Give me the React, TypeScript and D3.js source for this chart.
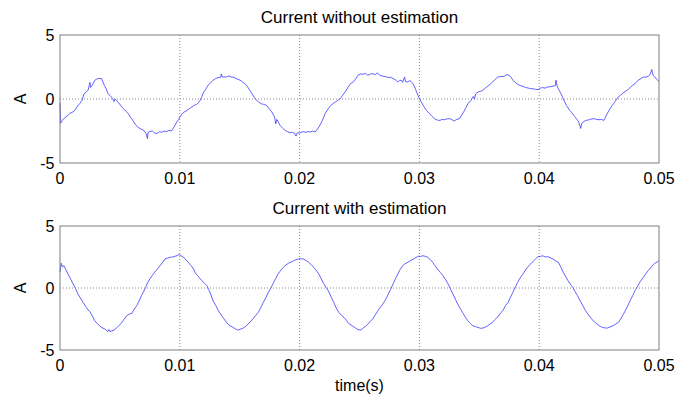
import React from "react";
import * as d3 from "d3";

// time in ms, current in A
const topSeries: [number, number][] = [
  [0, -0.3], [0.05, -1.9], [0.17, -1.7], [0.3, -1.55], [0.5, -1.4], [0.65, -1.3], [0.84, -1.1], [1.0, -1.05],
  [1.17, -0.95], [1.3, -0.8], [1.5, -0.5], [1.65, -0.35], [1.84, -0.1], [2.0, 0.4], [2.2, 0.55], [2.35, 0.7],
  [2.5, 1.3], [2.55, 0.9], [2.7, 1.07], [2.9, 1.46], [3.05, 1.55], [3.2, 1.6], [3.46, 1.6], [3.7, 1.07],
  [3.85, 0.8], [4.0, 0.42], [4.2, 0.25], [4.4, 0.03], [4.5, -0.2], [4.6, 0.0], [4.9, -0.3], [5.1, -0.55],
  [5.3, -0.76], [5.5, -0.95], [5.7, -1.15], [5.9, -1.45], [6.1, -1.7], [6.3, -2.0], [6.5, -2.2], [6.75, -2.35],
  [7.0, -2.45], [7.2, -2.7], [7.3, -3.1], [7.35, -2.6], [7.5, -2.55], [7.7, -2.5], [7.9, -2.65], [8.1, -2.7],
  [8.3, -2.55], [8.5, -2.6], [8.7, -2.5], [8.9, -2.55], [9.1, -2.45], [9.3, -2.5], [9.45, -2.3], [9.6, -2.05],
  [9.75, -1.8], [9.9, -1.6], [10.05, -1.35], [10.2, -1.15], [10.4, -1.0], [10.6, -0.9], [10.8, -0.75], [11.0, -0.63],
  [11.2, -0.5], [11.4, -0.42], [11.55, -0.3], [11.7, -0.1], [11.85, 0.2], [12.0, 0.55], [12.2, 0.8], [12.35, 1.07],
  [12.5, 1.2], [12.77, 1.46], [13.0, 1.6], [13.19, 1.67], [13.4, 1.7], [13.47, 1.95], [13.55, 1.72], [13.89, 1.72],
  [14.1, 1.8], [14.3, 1.72], [14.5, 1.7], [14.7, 1.6], [14.95, 1.5], [15.15, 1.4], [15.35, 1.25], [15.57, 1.07],
  [15.8, 0.75], [15.99, 0.47], [16.2, 0.15], [16.4, -0.1], [16.6, -0.25], [16.8, -0.37], [17.0, -0.42], [17.25, -0.5],
  [17.45, -0.75], [17.67, -1.0], [17.85, -1.3], [17.95, -1.55], [18.0, -1.95], [18.1, -1.6], [18.37, -2.06], [18.6, -2.3],
  [18.79, -2.45], [19.0, -2.55], [19.2, -2.64], [19.4, -2.6], [19.6, -2.7], [19.7, -2.9], [19.8, -2.65], [20.05, -2.64],
  [20.3, -2.55], [20.47, -2.6], [20.7, -2.55], [20.9, -2.58], [21.1, -2.5], [21.3, -2.58], [21.45, -2.4], [21.6, -2.2],
  [21.75, -1.95], [21.9, -1.67], [22.15, -1.1], [22.4, -0.75], [22.6, -0.5], [22.8, -0.35], [23.0, -0.23], [23.2, -0.1],
  [23.4, 0.03], [23.6, 0.3], [23.8, 0.55], [24.0, 0.85], [24.25, 1.2], [24.5, 1.35], [24.7, 1.6], [24.87, 1.85],
  [25.1, 1.95], [25.3, 1.93], [25.5, 2.0], [25.7, 1.85], [25.9, 1.95], [26.1, 1.98], [26.3, 1.9], [26.5, 2.04],
  [26.7, 1.85], [26.95, 1.78], [27.2, 1.75], [27.4, 1.67], [27.6, 1.7], [27.8, 1.6], [28.0, 1.5], [28.2, 1.33],
  [28.35, 1.45], [28.5, 1.46], [28.6, 1.3], [28.76, 1.72], [28.85, 1.35], [29.04, 1.33], [29.2, 1.45], [29.3, 1.38],
  [29.45, 1.2], [29.6, 0.94], [29.75, 0.6], [29.87, 0.29], [30.0, 0.05], [30.15, -0.23], [30.4, -0.63], [30.6, -0.9],
  [30.85, -1.15], [31.05, -1.35], [31.26, -1.54], [31.5, -1.65], [31.7, -1.67], [31.9, -1.6], [32.1, -1.62], [32.3, -1.55],
  [32.5, -1.54], [32.7, -1.6], [32.9, -1.72], [33.1, -1.6], [33.35, -1.54], [33.5, -1.3], [33.7, -1.0], [33.9, -0.65],
  [34.05, -0.37], [34.3, -0.1], [34.5, 0.2], [34.6, 0.0], [34.7, 0.4], [34.9, 0.55], [35.1, 0.6], [35.3, 0.68],
  [35.5, 0.85], [35.7, 0.99], [35.9, 1.15], [36.1, 1.33], [36.3, 1.5], [36.55, 1.72], [36.8, 1.75], [37.1, 1.78],
  [37.3, 1.9], [37.5, 1.85], [37.65, 1.7], [37.8, 1.46], [38.0, 1.3], [38.2, 1.15], [38.4, 1.05], [38.65, 0.99],
  [38.85, 0.9], [39.07, 0.86], [39.3, 0.8], [39.5, 0.8], [39.7, 0.75], [39.9, 0.73], [40.1, 0.85], [40.3, 0.89],
  [40.5, 0.85], [40.7, 0.94], [40.9, 0.95], [41.15, 1.0], [41.35, 1.05], [41.4, 1.46], [41.5, 1.0], [41.6, 0.8],
  [41.8, 0.45], [42.0, 0.03], [42.27, -0.5], [42.55, -0.89], [42.75, -1.1], [42.95, -1.36], [43.15, -1.6], [43.3, -1.8],
  [43.46, -2.3], [43.55, -1.9], [43.8, -1.72], [44.0, -1.65], [44.2, -1.62], [44.4, -1.55], [44.6, -1.54], [44.8, -1.6],
  [45.0, -1.62], [45.2, -1.6], [45.4, -1.67], [45.55, -1.4], [45.7, -1.1], [45.95, -0.7], [46.2, -0.37], [46.4, -0.1],
  [46.6, 0.16], [46.8, 0.3], [47.0, 0.47], [47.2, 0.6], [47.4, 0.73], [47.6, 0.9], [47.8, 1.07], [48.0, 1.2],
  [48.25, 1.46], [48.5, 1.6], [48.7, 1.72], [48.9, 1.7], [49.1, 1.78], [49.25, 1.9], [49.4, 2.3], [49.5, 1.85],
  [49.65, 1.72], [49.85, 1.5], [50.0, 1.35],
];

const bottomSeries: [number, number][] = [
  [0, 1.27], [0.1, 2.0], [0.2, 1.7], [0.33, 1.8], [0.5, 1.45], [0.67, 1.13], [0.9, 0.7], [1.09, 0.32],
  [1.3, -0.05], [1.5, -0.49], [1.7, -0.8], [1.93, -1.16], [2.15, -1.5], [2.35, -1.78], [2.5, -1.9], [2.6, -2.1],
  [2.75, -2.35], [2.9, -2.64], [3.1, -2.85], [3.3, -3.05], [3.5, -3.2], [3.74, -3.3], [3.9, -3.45], [4.0, -3.5],
  [4.1, -3.35], [4.2, -3.55], [4.3, -3.45], [4.5, -3.4], [4.7, -3.23], [4.9, -3.05], [5.1, -2.86], [5.3, -2.6],
  [5.56, -2.24], [5.8, -2.1], [6.0, -2.05], [6.2, -1.7], [6.4, -1.43], [6.6, -1.05], [6.8, -0.62], [7.0, -0.25],
  [7.15, 0.05], [7.3, 0.4], [7.5, 0.73], [7.7, 1.0], [7.9, 1.27], [8.1, 1.5], [8.35, 1.8], [8.55, 2.05],
  [8.77, 2.34], [9.0, 2.42], [9.2, 2.48], [9.4, 2.5], [9.6, 2.56], [9.8, 2.62], [9.94, 2.7], [10.1, 2.6],
  [10.3, 2.48], [10.5, 2.3], [10.7, 2.08], [10.9, 1.85], [11.15, 1.54], [11.3, 1.2], [11.56, 0.92], [11.7, 0.75],
  [11.84, 0.59], [12.05, 0.4], [12.26, 0.19], [12.4, -0.1], [12.54, -0.4], [12.77, -1.02], [13.0, -1.4], [13.19, -1.78],
  [13.4, -2.1], [13.6, -2.37], [13.8, -2.65], [14.0, -2.9], [14.2, -3.05], [14.45, -3.18], [14.65, -3.3], [14.87, -3.4],
  [15.1, -3.3], [15.3, -3.23], [15.5, -3.1], [15.7, -2.9], [15.9, -2.7], [16.1, -2.5], [16.3, -2.25], [16.55, -1.97],
  [16.75, -1.6], [16.97, -1.16], [17.2, -0.75], [17.4, -0.35], [17.6, 0.0], [17.8, 0.38], [18.0, 0.75], [18.2, 1.13],
  [18.45, 1.45], [18.65, 1.67], [18.85, 1.85], [19.07, 2.0], [19.3, 2.1], [19.5, 2.2], [19.7, 2.28], [19.9, 2.34],
  [20.1, 2.36], [20.3, 2.34], [20.5, 2.25], [20.75, 2.08], [20.95, 1.9], [21.17, 1.67], [21.4, 1.4], [21.6, 1.13],
  [21.8, 0.75], [22.0, 0.38], [22.2, 0.05], [22.4, -0.22], [22.6, -0.65], [22.85, -1.16], [23.05, -1.6], [23.27, -1.97],
  [23.5, -2.2], [23.7, -2.37], [23.9, -2.6], [24.1, -2.86], [24.4, -3.05], [24.67, -3.23], [24.87, -3.35], [25.1, -3.4],
  [25.3, -3.23], [25.5, -3.1], [25.7, -2.9], [25.9, -2.7], [26.1, -2.5], [26.3, -2.2], [26.5, -1.89], [26.7, -1.6],
  [26.95, -1.29], [27.2, -0.9], [27.4, -0.49], [27.6, -0.1], [27.8, 0.32], [28.0, 0.75], [28.2, 1.13], [28.4, 1.5],
  [28.6, 1.8], [28.8, 1.95], [29.04, 2.08], [29.25, 2.2], [29.5, 2.34], [29.7, 2.45], [29.9, 2.56], [30.1, 2.55],
  [30.3, 2.6], [30.5, 2.55], [30.7, 2.48], [30.9, 2.3], [31.1, 2.08], [31.3, 1.8], [31.5, 1.54], [31.75, 1.25],
  [31.96, 1.0], [32.2, 0.65], [32.4, 0.32], [32.6, -0.1], [32.8, -0.49], [33.0, -0.9], [33.2, -1.29], [33.4, -1.65],
  [33.6, -1.97], [33.8, -2.3], [34.04, -2.64], [34.25, -2.85], [34.46, -3.05], [34.7, -3.12], [34.9, -3.18], [35.1, -3.25],
  [35.3, -3.23], [35.5, -3.15], [35.7, -3.05], [35.9, -2.9], [36.1, -2.78], [36.3, -2.55], [36.55, -2.32], [36.75, -2.05],
  [36.96, -1.83], [37.2, -1.4], [37.4, -1.16], [37.6, -0.75], [37.8, -0.35], [38.0, 0.05], [38.2, 0.46], [38.4, 0.8],
  [38.65, 1.13], [38.85, 1.45], [39.07, 1.73], [39.3, 1.95], [39.5, 2.16], [39.7, 2.35], [39.9, 2.53], [40.1, 2.55],
  [40.3, 2.6], [40.5, 2.5], [40.7, 2.53], [40.9, 2.45], [41.15, 2.34], [41.35, 2.2], [41.6, 2.08], [41.8, 1.7],
  [42.0, 1.27], [42.2, 0.95], [42.4, 0.59], [42.6, 0.3], [42.8, 0.05], [43.0, -0.3], [43.2, -0.62], [43.4, -1.0],
  [43.65, -1.43], [43.85, -1.8], [44.07, -2.1], [44.3, -2.4], [44.5, -2.64], [44.7, -2.8], [44.9, -2.96], [45.1, -3.1],
  [45.3, -3.18], [45.5, -3.22], [45.7, -3.23], [45.9, -3.15], [46.15, -3.05], [46.4, -2.9], [46.6, -2.78], [46.8, -2.5],
  [47.0, -2.16], [47.2, -1.8], [47.4, -1.43], [47.6, -1.0], [47.8, -0.62], [48.0, -0.2], [48.25, 0.19], [48.45, 0.55],
  [48.7, 0.86], [48.9, 1.15], [49.1, 1.4], [49.4, 1.75], [49.65, 2.0], [49.85, 2.1], [50.0, 2.2],
];

const xTicks = [0, 0.01, 0.02, 0.03, 0.04, 0.05];
const xTickLabels = ["0", "0.01", "0.02", "0.03", "0.04", "0.05"];
const yTicks = [-5, 0, 5];
const titles = ["Current without estimation", "Current with estimation"];
const yLabel = "A";
const xLabel = "time(s)";

const W = 679;
const H = 400;
const FONT = "'Liberation Sans', Arial, Helvetica, sans-serif";
const GRID = "#8a8a8a";
const BOX = "#7f7f7f";

function Panel({ top, bottom, series, title }: { top: number; bottom: number; series: [number, number][]; title: string }) {
  const x = d3.scaleLinear().domain([0, 0.05]).range([60, 659]);
  const y = d3.scaleLinear().domain([-5, 5]).range([bottom, top]);
  const line = d3
    .line<[number, number]>()
    .x((d) => x(d[0] / 1000))
    .y((d) => y(d[1]));
  const [x0, x1] = x.range();
  return (
    <g>
      <rect x={x0} y={top} width={x1 - x0} height={bottom - top} fill="#fff" />
      {xTicks.slice(1, -1).map((t) => (
        <line key={t} x1={x(t)} x2={x(t)} y1={top} y2={bottom} stroke={GRID} strokeWidth={1} strokeDasharray="1,2" />
      ))}
      <line x1={x0} x2={x1} y1={y(0)} y2={y(0)} stroke={GRID} strokeWidth={1} strokeDasharray="1,2" />
      <path d={line(series) || ""} fill="none" stroke="#3a3aff" strokeWidth={0.8} />
      <rect x={x0} y={top} width={x1 - x0} height={bottom - top} fill="none" stroke={BOX} strokeWidth={1} />
      {xTicks.map((t, i) => (
        <text key={t} x={x(t)} y={bottom + 21} fontSize={16} textAnchor="middle" fontFamily={FONT} fill="#000">
          {xTickLabels[i]}
        </text>
      ))}
      {yTicks.map((t) => (
        <text key={t} x={54.5} y={y(t)} dy="0.36em" fontSize={16} textAnchor="end" fontFamily={FONT} fill="#000">
          {t}
        </text>
      ))}
      <text
        transform={`translate(26,${(top + bottom) / 2}) rotate(-90)`}
        fontSize={16}
        textAnchor="middle"
        fontFamily={FONT}
        fill="#000"
      >
        {yLabel}
      </text>
      <text x={(x0 + x1) / 2} y={top - 12} fontSize={17} textAnchor="middle" fontFamily={FONT} fill="#000">
        {title}
      </text>
    </g>
  );
}

export default function App() {
  return (
    <svg width={W} height={H} style={{ position: "absolute", left: 0, top: 0, background: "#fff" }}>
      <rect width={W} height={H} fill="#fff" />
      <Panel top={35} bottom={163} series={topSeries} title={titles[0]} />
      <Panel top={226} bottom={350} series={bottomSeries} title={titles[1]} />
      <text x={359.5} y={391} fontSize={16} textAnchor="middle" fontFamily={FONT} fill="#000">
        {xLabel}
      </text>
    </svg>
  );
}
